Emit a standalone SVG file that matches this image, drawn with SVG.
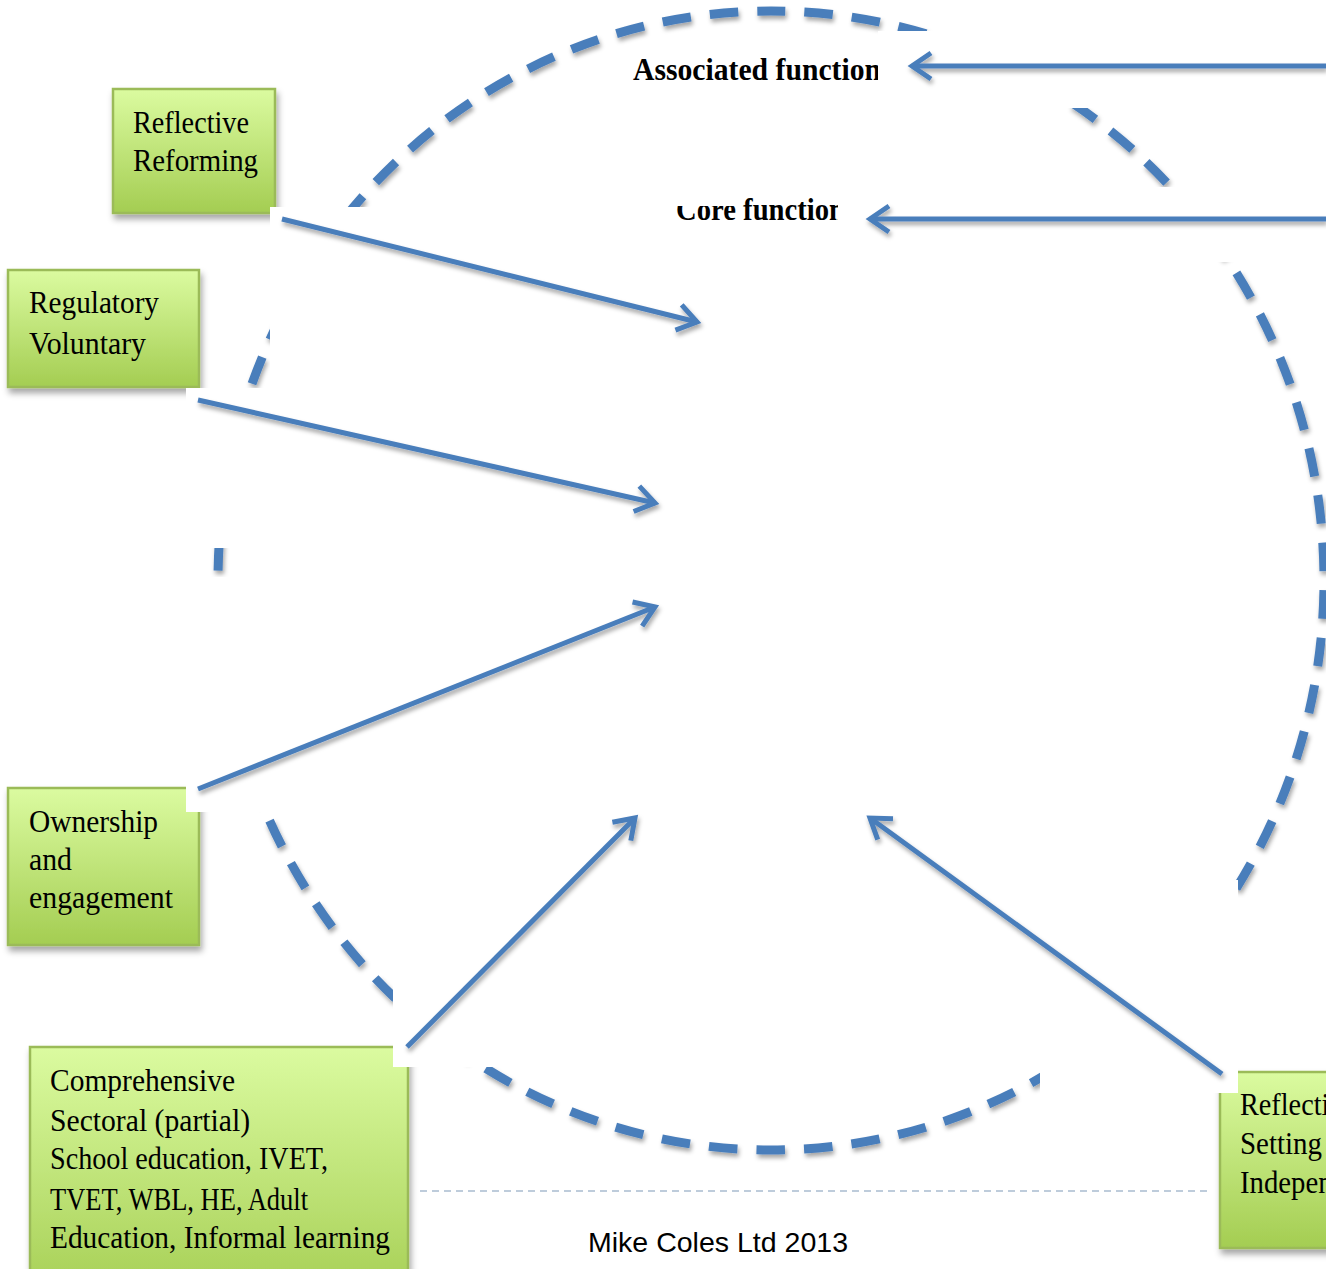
<svg xmlns="http://www.w3.org/2000/svg" width="1326" height="1269" viewBox="0 0 1326 1269">
<defs>
<linearGradient id="g" x1="0" y1="0" x2="0" y2="1">
<stop offset="0" stop-color="#dbfba0"/>
<stop offset="1" stop-color="#a4cd52"/>
</linearGradient>
<filter id="sh" x="-10%" y="-10%" width="130%" height="130%">
<feDropShadow dx="1.5" dy="3.5" stdDeviation="2" flood-color="#000" flood-opacity="0.35"/>
</filter>
<filter id="bsh" x="-10%" y="-10%" width="130%" height="130%">
<feDropShadow dx="2" dy="5" stdDeviation="3" flood-color="#000" flood-opacity="0.35"/>
</filter>
<marker id="ah" markerUnits="userSpaceOnUse" markerWidth="40" markerHeight="40" viewBox="-30 -20 40 40" refX="0" refY="0" orient="auto" overflow="visible">
<path d="M -19 -13 L 0 0 L -19 13" fill="none" stroke="#4a7ebb" stroke-width="5"/>
</marker>
</defs>
<style>
.box{fill:url(#g);stroke:#9bbb59;stroke-width:2.5;filter:url(#bsh)}
.t{font-family:"Liberation Serif",serif;font-size:32px;fill:#000}
.h{font-family:"Liberation Serif",serif;font-size:32px;font-weight:bold;fill:#000}
.mask{fill:#fff}
.conn{fill:none;stroke:#4a7ebb;stroke-width:5;marker-end:url(#ah)}
</style>
<rect width="1326" height="1269" fill="#fff"/>
<path d="M 771 11 A 553 569.5 0 1 1 771 1150 A 553 569.5 0 1 1 771 11" fill="none" stroke="#4a7ebb" stroke-width="9" stroke-dasharray="28.6 19.06" stroke-dashoffset="14.3" filter="url(#sh)"/>
<g id="node-reflective-reforming">
<rect class="box" x="113" y="89" width="162" height="124"/>
<text class="t" x="133" y="133" textLength="116" lengthAdjust="spacingAndGlyphs">Reflective</text>
<text class="t" x="133" y="171" textLength="125" lengthAdjust="spacingAndGlyphs">Reforming</text>
</g>
<g id="node-regulatory-voluntary">
<rect class="box" x="8" y="270" width="191" height="117"/>
<text class="t" x="29" y="313" textLength="130" lengthAdjust="spacingAndGlyphs">Regulatory</text>
<text class="t" x="29" y="354" textLength="117" lengthAdjust="spacingAndGlyphs">Voluntary</text>
</g>
<g id="node-ownership">
<rect class="box" x="8" y="788" width="191" height="157"/>
<text class="t" x="29" y="832" textLength="129" lengthAdjust="spacingAndGlyphs">Ownership</text>
<text class="t" x="29" y="870" textLength="43" lengthAdjust="spacingAndGlyphs">and</text>
<text class="t" x="29" y="908" textLength="144" lengthAdjust="spacingAndGlyphs">engagement</text>
</g>
<g id="node-comprehensive">
<rect class="box" x="30" y="1047" width="378" height="260"/>
<text class="t" x="50" y="1091" textLength="185" lengthAdjust="spacingAndGlyphs">Comprehensive</text>
<text class="t" x="50" y="1131" textLength="200" lengthAdjust="spacingAndGlyphs">Sectoral (partial)</text>
<text class="t" x="50" y="1169" textLength="278" lengthAdjust="spacingAndGlyphs">School education, IVET,</text>
<text class="t" x="50" y="1210" textLength="258" lengthAdjust="spacingAndGlyphs">TVET, WBL, HE, Adult</text>
<text class="t" x="50" y="1248" textLength="340" lengthAdjust="spacingAndGlyphs">Education, Informal learning</text>
</g>
<g id="node-reflective-setting">
<rect class="box" x="1220" y="1072" width="200" height="176"/>
<text class="t" x="1240" y="1115" textLength="116" lengthAdjust="spacingAndGlyphs">Reflective</text>
<text class="t" x="1240" y="1154" textLength="82" lengthAdjust="spacingAndGlyphs">Setting</text>
<text class="t" x="1240" y="1193" textLength="142" lengthAdjust="spacingAndGlyphs">Independent</text>
</g>
<g id="node-associated">
<text class="h" x="633" y="80" textLength="248" lengthAdjust="spacingAndGlyphs">Associated function</text>
</g>
<g id="node-core">
<text class="h" x="676" y="220" textLength="169" lengthAdjust="spacingAndGlyphs">Core function</text>
</g>
<g id="masks">
<rect class="mask" x="878" y="31" width="448" height="77"/>
<rect class="mask" x="838" y="187" width="488" height="75"/>
<rect class="mask" x="670" y="180" width="67" height="26"/>
<rect class="mask" x="270" y="207" width="390" height="181"/>
<rect class="mask" x="186" y="388" width="474" height="160"/>
<rect class="mask" x="186" y="577" width="474" height="235"/>
<rect class="mask" x="393" y="960" width="307" height="107"/>
<rect class="mask" x="1040" y="880" width="198" height="213"/>
</g>
<g id="connectors" filter="url(#sh)">
<line class="conn" x1="1326" y1="66" x2="912" y2="66"/>
<line class="conn" x1="1326" y1="219" x2="870" y2="219"/>
<line class="conn" x1="282" y1="219" x2="697" y2="322"/>
<line class="conn" x1="198" y1="400" x2="655" y2="503"/>
<line class="conn" x1="198" y1="789" x2="655" y2="607"/>
<line class="conn" x1="407" y1="1047" x2="635" y2="818"/>
<line class="conn" x1="1222" y1="1074" x2="870" y2="818"/>
</g>
<g id="footer">
<line x1="420" y1="1191" x2="1210" y2="1191" stroke="#a9bccf" stroke-width="1.5" stroke-dasharray="7 5"/>
<text x="588" y="1252" font-family="Liberation Sans, sans-serif" font-size="28" fill="#000" textLength="260" lengthAdjust="spacingAndGlyphs">Mike Coles Ltd 2013</text>
</g>
</svg>
